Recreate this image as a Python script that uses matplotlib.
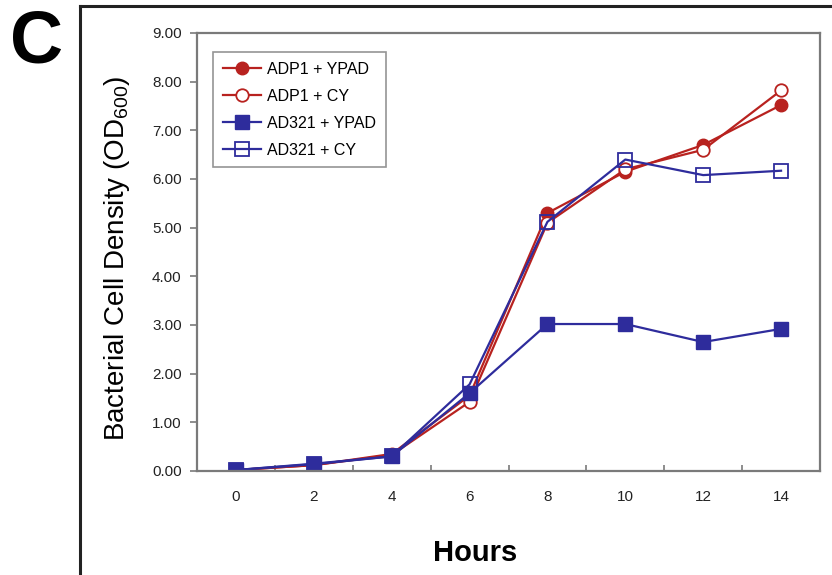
import matplotlib
matplotlib.use("Agg")
import matplotlib.pyplot as plt
from matplotlib.lines import Line2D

hours = [0, 2, 4, 6, 8, 10, 12, 14]
adp1_ypad = [0.02, 0.12, 0.35, 1.55, 5.30, 6.15, 6.70, 7.52]
adp1_cy = [0.02, 0.12, 0.33, 1.42, 5.10, 6.20, 6.60, 7.82]
ad321_ypad = [0.02, 0.15, 0.30, 1.60, 3.02, 3.02, 2.65, 2.92]
ad321_cy = [0.02, 0.14, 0.30, 1.78, 5.12, 6.40, 6.08, 6.17]
yticks = [0, 1, 2, 3, 4, 5, 6, 7, 8, 9]
labels = ["ADP1 + YPAD", "ADP1 + CY", "AD321 + YPAD", "AD321 + CY"]

RED = "#B8221F"
BLUE = "#2E2C9C"
GRAY = "#7a7a7a"

plt.rcParams['font.family'] = ['Liberation Sans', 'DejaVu Sans']

fig = plt.figure(figsize=(8.32, 5.75), dpi=100)
ax = fig.add_axes([197/832, 1 - 471/575, (820 - 197)/832, (471 - 33)/575])

# outer frame (top and left)
fig.add_artist(Line2D([80/832, 80/832], [0, 1 - 6/575], transform=fig.transFigure,
                      color="#222222", lw=2.2))
fig.add_artist(Line2D([80/832, 1.0], [1 - 6/575, 1 - 6/575], transform=fig.transFigure,
                      color="#222222", lw=2.2))

fig.text(10/832, 1 - 43/575, "C", fontsize=53, fontweight="bold", va="center", ha="left")

lw = 1.6
ax.plot(hours, adp1_ypad, color=RED, lw=lw, marker="o", ms=9, mfc=RED, mec=RED, label=labels[0])
ax.plot(hours, adp1_cy, color=RED, lw=lw, marker="o", ms=9, mfc="white", mec=RED, mew=1.3, label=labels[1])
ax.plot(hours, ad321_ypad, color=BLUE, lw=lw, marker="s", ms=10, mfc=BLUE, mec=BLUE, label=labels[2])
ax.plot(hours, ad321_cy, color=BLUE, lw=lw, marker="s", ms=10, mfc="none", mec=BLUE, mew=1.3, label=labels[3])

ax.set_xlim(-1, 15)
ax.set_ylim(0, 9)
ax.set_yticks(yticks)
ax.set_yticklabels([f"{v:.2f}" for v in yticks])
ax.set_xticks(hours)
ax.set_xticklabels([str(h) for h in hours])
ax.set_xticks([h + 1 for h in [-2] + hours], minor=True)
ax.tick_params(axis="x", which="major", length=0, pad=14, labelsize=11, colors="#222222")
ax.tick_params(axis="x", which="minor", length=4, width=1.2, color=GRAY, direction="in")
ax.tick_params(axis="y", which="major", length=5, width=1.2, color=GRAY, pad=6, labelsize=11,
               labelcolor="#222222")
for s in ax.spines.values():
    s.set_color(GRAY)
    s.set_linewidth(1.6)

ax.set_ylabel(r"Bacterial Cell Density (OD$_{\mathregular{600}}$)", fontsize=20, va="center")
ax.yaxis.set_label_coords(-0.128, 0.485)
ax.set_xlabel("Hours", fontsize=21, fontweight="bold", va="center")
ax.xaxis.set_label_coords(0.446, -0.187)

leg = ax.legend(loc="upper left", bbox_to_anchor=(213/832, 1 - 52/575), bbox_transform=fig.transFigure,
                fontsize=11.5, frameon=True, fancybox=False, edgecolor=GRAY, handlelength=2.4,
                handletextpad=0.4, borderpad=0.6, labelspacing=0.75, borderaxespad=0)
leg.get_frame().set_linewidth(1.2)

fig.savefig("out.png", dpi=100)
